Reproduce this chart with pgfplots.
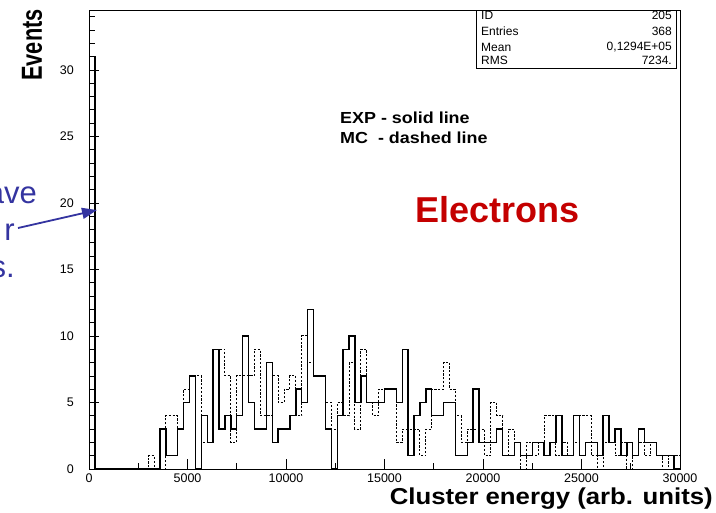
\documentclass[border=0pt]{standalone}
\usepackage{pgfplots}
\pgfplotsset{compat=1.18}
\usepackage{pgfplotstable}
\usepackage{fontspec}
\setmainfont{Liberation Sans}
\usetikzlibrary{arrows.meta}
\definecolor{noteblue}{RGB}{52,52,160}
\definecolor{elred}{RGB}{196,0,0}
\pgfplotstableread{
x exp mc
0 31 0
300 0 0
600 0 0
900 0 0
1200 0 0
1500 0 0
1800 0 0
2100 0 0
2400 0 0
2700 0 0
3000 0 1
3300 0 0
3600 3 0
3900 1 4
4200 1 4
4500 3 3
4800 5 6
5100 7 7
5400 0 7
5700 4 2
6000 2 2
6300 9 9
6600 3 9
6900 4 7
7200 3 2
7500 4 7
7800 10 7
8100 5 7
8400 3 9
8700 3 4
9000 8 4
9300 2 7
9600 3 5
9900 3 6
10200 4 7
10500 6 4
10800 5 10
11100 12 8
11400 7 7
11700 7 7
12000 3 5
12300 0 3
12600 4 5
12900 9 4
13200 10 8
13500 5 3
13800 7 9
14100 5 5
14400 5 4
14700 5 6
15000 6 6
15300 6 6
15600 5 2
15900 9 3
16200 1 3
16500 4 3
16800 5 1
17100 6 3
17400 4 6
17700 4 6
18000 5 8
18300 5 6
18600 1 4
18900 1 2
19200 2 3
19500 6 3
19800 2 3
20100 2 1
20400 2 5
20700 3 4
21000 1 1
21300 1 3
21600 2 2
21900 1 0
22200 1 2
22500 2 1
22800 2 2
23100 1 4
23400 2 4
23700 4 1
24000 1 2
24300 1 1
24600 4 2
24900 1 4
25200 2 4
25500 2 1
25800 1 0
26100 4 2
26400 2 2
26700 3 1
27000 1 2
27300 2 0
27600 1 1
27900 3 2
28200 2 1
28500 2 2
28800 1 1
29100 1 0
29400 1 1
29700 0 1
30000 0 1
}\histdata
\begin{document}
\begin{tikzpicture}[x=1pt,y=1pt]
\begin{axis}[
  at={(0,0)}, anchor=origin,
  width=591pt, height=459pt, scale only axis,
  xmin=0, xmax=30000, ymin=0, ymax=34.5,
  axis line style={line width=0.9pt},
  xtick={0,5000,...,30000},
  minor xtick={2500,7500,...,27500},
  ytick={0,5,...,30},
  minor ytick={1,2,3,4,6,7,8,9,11,12,13,14,16,17,18,19,21,22,23,24,26,27,28,29,31,32,33,34},
  tick align=inside,
  xtick pos=bottom, ytick pos=left,
  major tick length=10pt, minor tick length=6pt,
  every tick/.style={black, line width=0.7pt},
  scaled x ticks=false,
  /pgf/number format/1000 sep={},
  /pgf/number format/assume math mode=true,
  tick label style={font=\fontsize{12.5}{13}\selectfont},
  xticklabel style={inner sep=0pt, anchor=north, yshift=-5pt},
  yticklabel style={inner sep=0pt, anchor=east, xshift=-15pt},
  clip=false,
]
\addplot[const plot mark left, black, line width=1.4pt, mark=none] table[x=x, y=exp] {\histdata};
\addplot[const plot mark left, black, line width=1pt, dash pattern=on 2.2pt off 1.6pt, mark=none,
  skip coords between index={0}{9}] table[x=x, y=mc] {\histdata};
\coordinate (bbll) at (axis cs:-4518,-3.2321);
\coordinate (bbur) at (axis cs:31827,35.2526);
\end{axis}
\pgfresetboundingbox
\useasboundingbox (bbll) rectangle (bbur);
\begin{scope}[shift={(bbll)}]
% y label
\node[rotate=90, anchor=center] at (32,467) {\scalebox{0.75}[1]{\fontsize{29}{29}\selectfont\bfseries Events}};
% x label
\node[anchor=base east, inner sep=0pt] at (713,7.5) {\scalebox{1.12}[1]{\fontsize{23}{23}\selectfont\bfseries Cluster energy (arb. units)}};
% stats box
\draw[line width=0.9pt] (476,444) rectangle (676,502);
\begin{scope}[every node/.style={inner sep=0pt, font=\fontsize{12}{12}\selectfont}]
\node[anchor=west] at (481,497) {ID};
\node[anchor=east] at (672,497) {205};
\node[anchor=west] at (481,480.5) {Entries};
\node[anchor=east] at (672,480.5) {368};
\node[anchor=west] at (481,464.5) {Mean};
\node[anchor=east] at (672,464.5) {0,1294E+05};
\node[anchor=west] at (481,451.5) {RMS};
\node[anchor=east] at (672,451.5) {7234.};
\end{scope}
% annotations
\node[anchor=base west, inner sep=0pt] at (340,389) {\scalebox{1.12}[1]{\fontsize{16}{16}\selectfont\bfseries EXP - solid line}};
\node[anchor=base west, inner sep=0pt] at (340,369) {\scalebox{1.12}[1]{\fontsize{16}{16}\selectfont\bfseries MC\ \ - dashed line}};
\node[anchor=base west, inner sep=0pt, text=elred] at (415,290) {\fontsize{36}{36}\selectfont\bfseries Electrons};
% cut-off blue note on the left
\begin{scope}[every node/.style={inner sep=0pt, text=noteblue, font=\fontsize{31}{31}\selectfont}]
\node[anchor=base east] at (37,309) {ave};
\node[anchor=base east] at (15,272) {r};
\node[anchor=base east] at (15,235) {s.};
\end{scope}
\draw[noteblue, line width=1.8pt, -{Triangle[length=15pt, width=11pt]}] (18,284) -- (97,302);
\end{scope}
\end{tikzpicture}
\end{document}
